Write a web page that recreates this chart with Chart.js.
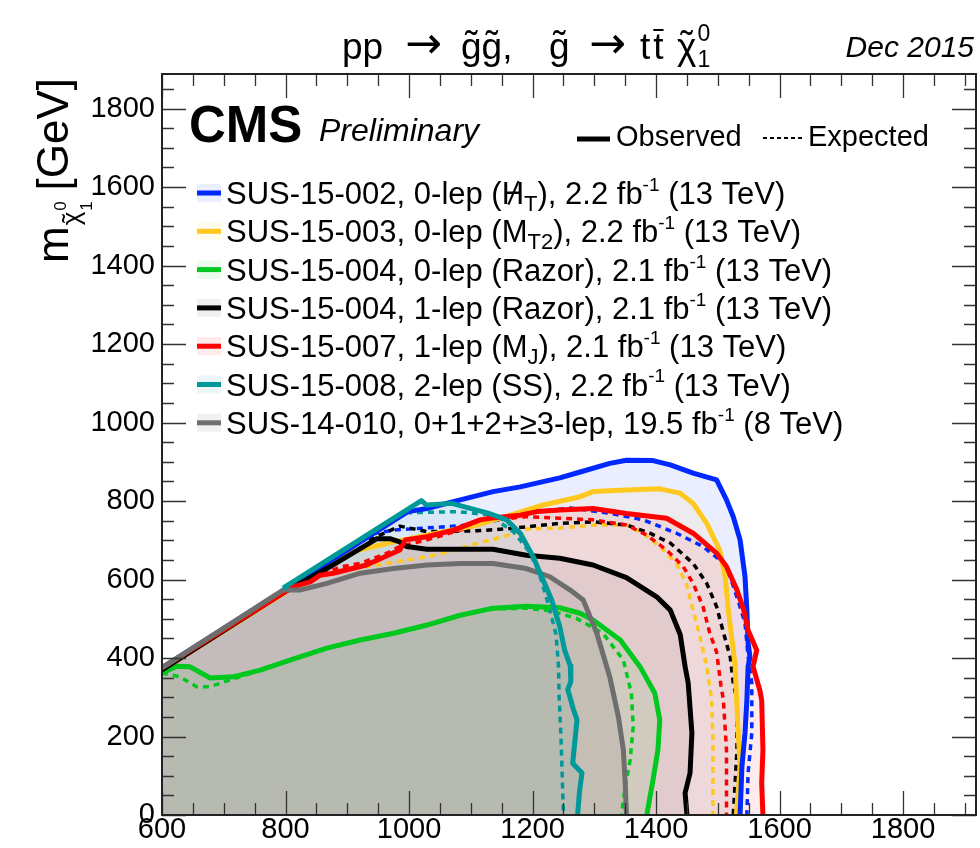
<!DOCTYPE html>
<html>
<head>
<meta charset="utf-8">
<script src="https://cdn.jsdelivr.net/npm/chart.js@4.4.0/dist/chart.umd.min.js"></script>
<style>
  html, body { margin: 0; padding: 0; background: #fff; }
  #wrap { width: 980px; height: 848px; overflow: hidden; }
</style>
</head>
<body>
<div id="wrap"><canvas id="limitChart" width="980" height="848"></canvas></div>
<script>
const FONT = "'Liberation Sans', Arial, sans-serif";

// axis ranges and labelled ticks (GeV)
const xRange = [600, 1918];
const yRange = [0, 1888];
const xTickValues = [600, 800, 1000, 1200, 1400, 1600, 1800];
const yTickValues = [0, 200, 400, 600, 800, 1000, 1200, 1400, 1600, 1800];

// corner of the kinematic diagonal at the left edge
const diagStart = [600, 375];

// contours: [m_gluino, m_LSP]
const sus15002Obs = [[600,375],[998,773],[1029,781],[1083,803],[1136,824],[1180,836],[1244,859],[1277,874],[1325,896],[1352,904],[1395,903],[1423,892],[1460,871],[1498,854],[1514,803],[1525,760],[1536,701],[1544,607],[1547,522],[1549,438],[1552,403],[1549,378],[1547,293],[1544,209],[1539,123],[1536,0]];
const sus15002Exp = [[942,717],[975,726],[1083,737],[1140,750],[1200,772],[1261,782],[1325,769],[1379,752],[1433,718],[1476,684],[1503,650],[1520,607],[1534,540],[1544,489],[1549,403],[1555,336],[1555,209],[1549,107],[1547,0]];

const sus15003Obs = [[600,370],[800,568],[910,672],[975,696],[1029,713],[1110,739],[1164,764],[1217,790],[1277,811],[1298,824],[1352,828],[1406,831],[1439,820],[1460,794],[1482,743],[1503,675],[1512,607],[1517,522],[1525,420],[1528,378],[1533,209],[1536,123],[1530,0]];
const sus15003Exp = [[840,615],[877,618],[948,637],[1029,658],[1066,671],[1110,692],[1153,709],[1191,729],[1244,731],[1298,739],[1352,739],[1379,718],[1406,684],[1433,641],[1449,590],[1460,522],[1471,454],[1482,378],[1490,293],[1492,191],[1492,0]];

const sus15004zObs = [[600,362],[624,379],[645,378],[678,349],[715,352],[759,369],[812,397],[867,425],[921,446],[975,463],[1029,484],[1083,509],[1136,527],[1190,532],[1244,528],[1277,514],[1298,497],[1342,446],[1374,378],[1398,310],[1406,242],[1403,166],[1395,89],[1385,0]];
const sus15004zExp = [[600,362],[629,352],[656,327],[678,327],[710,344],[759,369],[812,397],[867,425],[921,446],[975,463],[1029,484],[1083,509],[1136,525],[1190,527],[1230,520],[1271,501],[1314,463],[1347,395],[1360,310],[1363,225],[1358,140],[1350,72],[1344,0]];

const sus15004oObs = [[600,370],[800,570],[867,628],[948,704],[969,704],[985,696],[996,684],[1029,677],[1136,677],[1190,662],[1244,654],[1298,637],[1352,605],[1401,556],[1423,522],[1439,460],[1447,378],[1452,336],[1458,209],[1455,107],[1447,56],[1450,0]];
const sus15004oExp = [[935,700],[985,736],[1029,722],[1110,724],[1164,730],[1244,743],[1298,747],[1352,739],[1390,718],[1423,693],[1460,641],[1482,590],[1498,531],[1508,471],[1520,403],[1525,336],[1531,293],[1531,166],[1525,0]];

const sus15007Obs = [[600,375],[813,582],[840,594],[856,611],[877,616],[931,637],[985,675],[994,701],[1029,709],[1072,726],[1115,752],[1131,756],[1180,764],[1207,773],[1244,777],[1298,781],[1352,768],[1417,756],[1460,718],[1498,667],[1514,633],[1531,573],[1542,522],[1549,471],[1563,420],[1557,378],[1568,318],[1571,293],[1573,166],[1571,81],[1573,0]];
const sus15007Exp = [[860,612],[888,632],[921,641],[964,667],[985,684],[1029,701],[1083,726],[1136,752],[1190,760],[1244,756],[1298,752],[1352,739],[1385,713],[1417,675],[1444,633],[1460,590],[1476,531],[1487,463],[1498,415],[1505,330],[1509,293],[1514,166],[1514,0]];

const sus15008Obs = [[796,578],[1020,801],[1028,790],[1069,794],[1128,769],[1158,752],[1180,718],[1201,658],[1217,599],[1231,548],[1244,480],[1252,420],[1261,380],[1262,340],[1257,320],[1266,270],[1272,242],[1268,180],[1265,132],[1280,107],[1276,60],[1273,0]];
const sus15008Exp = [[995,770],[1077,773],[1130,765],[1170,720],[1195,670],[1210,620],[1225,540],[1238,460],[1242,380],[1243,300],[1246,200],[1248,100],[1250,0]];

const sus14010Obs = [[600,375],[796,573],[823,573],[867,590],[921,616],[975,628],[1029,637],[1083,641],[1136,641],[1190,628],[1228,607],[1261,573],[1282,548],[1304,463],[1325,352],[1339,250],[1347,166],[1350,81],[1352,0]];

// legend text pieces: plain strings, {sub}, {sup}, {slash}
const legendLabels = [
  ['SUS-15-002, 0-lep (', {slash: 'H'}, {sub: 'T'}, '), 2.2 fb', {sup: '-1'}, ' (13 TeV)'],
  ['SUS-15-003, 0-lep (M', {sub: 'T2'}, '), 2.2 fb', {sup: '-1'}, ' (13 TeV)'],
  ['SUS-15-004, 0-lep (Razor), 2.1 fb', {sup: '-1'}, ' (13 TeV)'],
  ['SUS-15-004, 1-lep (Razor), 2.1 fb', {sup: '-1'}, ' (13 TeV)'],
  ['SUS-15-007, 1-lep (M', {sub: 'J'}, '), 2.1 fb', {sup: '-1'}, ' (13 TeV)'],
  ['SUS-15-008, 2-lep (SS), 2.2 fb', {sup: '-1'}, ' (13 TeV)'],
  ['SUS-14-010, 0+1+2+\u22653-lep, 19.5 fb', {sup: '-1'}, ' (8 TeV)']
];

const lineColors = ['rgb(0,40,255)', 'rgb(255,200,30)', 'rgb(0,200,30)', 'rgb(0,0,0)', 'rgb(255,0,0)', 'rgb(0,153,153)', 'rgb(110,110,110)'];
const areaColors = ['rgba(0,40,255,0.08)', 'rgba(255,200,30,0.08)', 'rgba(0,200,30,0.08)', 'rgba(0,0,0,0.06)', 'rgba(255,0,0,0.08)', 'rgba(0,153,153,0.08)', 'rgba(0,0,0,0.06)'];
// lower value is drawn on top
const drawOrder = [5, 6, 4, 3, 2, 0, 1];

const observed = [sus15002Obs, sus15003Obs, sus15004zObs, sus15004oObs, sus15007Obs, sus15008Obs, sus14010Obs];
const expected = [sus15002Exp, sus15003Exp, sus15004zExp, sus15004oExp, sus15007Exp, sus15008Exp, null];

const toXY = arr => arr.map(([x, y]) => ({x, y}));

const datasets = [];
observed.forEach((obs, i) => {
  datasets.push({
    data: toXY(obs), showLine: true, fill: false,
    borderColor: lineColors[i], borderWidth: 5,
    areaColor: areaColors[i], order: drawOrder[i]
  });
  if (expected[i]) {
    datasets.push({
      data: toXY(expected[i]), showLine: true, fill: false,
      borderColor: lineColors[i], borderWidth: 3.5, borderDash: [6, 5],
      order: 10 + drawOrder[i]
    });
  }
});

// translucent excluded regions under each observed contour
const areaFill = {
  id: 'areaFill',
  beforeDatasetsDraw(chart) {
    const {ctx, chartArea, scales: {x, y}} = chart;
    ctx.save();
    ctx.beginPath();
    ctx.rect(chartArea.left, chartArea.top, chartArea.width, chartArea.height);
    ctx.clip();
    chart.data.datasets.forEach((ds, i) => {
      if (!ds.areaColor) return;
      const pts = chart.getDatasetMeta(i).data;
      ctx.beginPath();
      ctx.moveTo(x.getPixelForValue(xRange[0]), y.getPixelForValue(0));
      if (ds.data[0].x > xRange[0]) {
        ctx.lineTo(x.getPixelForValue(diagStart[0]), y.getPixelForValue(diagStart[1]));
      }
      pts.forEach(p => ctx.lineTo(p.x, p.y));
      ctx.lineTo(pts[pts.length - 1].x, y.getPixelForValue(0));
      ctx.closePath();
      ctx.fillStyle = ds.areaColor;
      ctx.fill();
    });
    ctx.restore();
  }
};

// box with inward ticks on all four sides
const frame = {
  id: 'frame',
  afterDatasetsDraw(chart) {
    const {ctx, chartArea: a, scales: {x, y}} = chart;
    ctx.save();
    ctx.strokeStyle = '#333';
    ctx.lineWidth = 1.3;
    ctx.beginPath();
    for (let v = xRange[0]; v <= xRange[1]; v += 50) {
      const px = Math.round(x.getPixelForValue(v)) + 0.5;
      const len = v % 200 === 0 ? 24 : 12;
      ctx.moveTo(px, a.bottom); ctx.lineTo(px, a.bottom - len);
      ctx.moveTo(px, a.top); ctx.lineTo(px, a.top + len);
    }
    for (let v = yRange[0]; v <= yRange[1]; v += 50) {
      const py = Math.round(y.getPixelForValue(v)) + 0.5;
      const len = v % 200 === 0 ? 24 : 12;
      ctx.moveTo(a.left, py); ctx.lineTo(a.left + len, py);
      ctx.moveTo(a.right, py); ctx.lineTo(a.right - len, py);
    }
    ctx.stroke();
    ctx.strokeStyle = '#222';
    ctx.lineWidth = 2;
    ctx.strokeRect(a.left, a.top, a.right - a.left, a.bottom - a.top);
    ctx.restore();
  }
};

function drawRich(ctx, x, y, parts, size) {
  let cx = x;
  parts.forEach(p => {
    if (typeof p === 'string') {
      ctx.font = `${size}px ${FONT}`;
      ctx.fillText(p, cx, y);
      cx += ctx.measureText(p).width;
    } else if (p.sub) {
      ctx.font = `${Math.round(size * 0.7)}px ${FONT}`;
      ctx.fillText(p.sub, cx, y + size * 0.22);
      cx += ctx.measureText(p.sub).width;
    } else if (p.sup) {
      ctx.font = `${Math.round(size * 0.6)}px ${FONT}`;
      ctx.fillText(p.sup, cx, y - size * 0.42);
      cx += ctx.measureText(p.sup).width;
    } else if (p.slash) {
      ctx.font = `${size}px ${FONT}`;
      const w = ctx.measureText(p.slash).width;
      ctx.fillText(p.slash, cx, y);
      ctx.save();
      ctx.lineWidth = size * 0.07;
      ctx.beginPath();
      ctx.moveTo(cx + w * 0.3, y + size * 0.02);
      ctx.lineTo(cx + w * 0.75, y - size * 0.74);
      ctx.stroke();
      ctx.restore();
      cx += w;
    }
  });
  return cx;
}

function tildeOver(ctx, cx, w, by, size) {
  ctx.save();
  ctx.textAlign = 'center';
  ctx.font = `${size}px ${FONT}`;
  ctx.fillText('\u02DC', cx + w / 2, by);
  ctx.restore();
}

function arrow(ctx, x, by) {
  ctx.save();
  ctx.font = "44px 'DejaVu Sans', sans-serif";
  ctx.fillText('\u2192', x, by);
  ctx.restore();
}

const annotations = {
  id: 'annotations',
  afterDraw(chart) {
    const {ctx} = chart;
    ctx.save();
    ctx.fillStyle = '#000';
    ctx.strokeStyle = '#000';
    ctx.textBaseline = 'alphabetic';

    // process title
    const ts = 37, tb = 59;
    ctx.font = `${ts}px ${FONT}`;
    const g = ctx.measureText('g').width;
    const t = ctx.measureText('t').width;
    ctx.fillText('pp', 342, tb);
    arrow(ctx, 405, tb - 1);
    ctx.font = `${ts}px ${FONT}`;
    ctx.fillText('g', 461, tb); tildeOver(ctx, 461, g, tb - 2, ts);
    ctx.fillText('g', 461 + g, tb); tildeOver(ctx, 461 + g, g, tb - 2, ts);
    ctx.fillText(',', 461 + 2 * g, tb);
    ctx.fillText('g', 549, tb); tildeOver(ctx, 549, g, tb - 2, ts);
    arrow(ctx, 589, tb - 1);
    ctx.font = `${ts}px ${FONT}`;
    ctx.fillText('t', 640, tb);
    ctx.fillText('t', 643 + t, tb);
    ctx.lineWidth = 2;
    ctx.beginPath();
    ctx.moveTo(643 + t, tb - 29); ctx.lineTo(643 + 2 * t, tb - 29);
    ctx.stroke();
    const chi = ctx.measureText('\u03C7').width;
    ctx.fillText('\u03C7', 677, tb); tildeOver(ctx, 677, chi, tb - 2, ts);
    ctx.font = `23px ${FONT}`;
    ctx.fillText('0', 677 + chi + 1, tb - 18);
    ctx.fillText('1', 677 + chi + 1, tb + 8);

    ctx.font = `italic 30px ${FONT}`;
    ctx.textAlign = 'right';
    ctx.fillText('Dec 2015', 974, 57);
    ctx.textAlign = 'left';

    // y axis title, rotated
    ctx.save();
    ctx.translate(68, 263);
    ctx.rotate(-Math.PI / 2);
    ctx.font = `44px ${FONT}`;
    ctx.fillText('m', 0, 0);
    const mw = ctx.measureText('m').width;
    ctx.font = `26px ${FONT}`;
    const cw = ctx.measureText('\u03C7').width;
    ctx.fillText('\u03C7', mw + 1, 12);
    tildeOver(ctx, mw + 1, cw, 12, 26);
    ctx.font = `17px ${FONT}`;
    ctx.fillText('0', mw + cw + 2, -2);
    ctx.fillText('1', mw + cw + 2, 24);
    ctx.font = `44px ${FONT}`;
    ctx.fillText(' [GeV]', mw + cw + 10, 0);
    ctx.restore();

    // experiment label
    ctx.font = `bold 51px ${FONT}`;
    ctx.fillText('CMS', 189, 142);
    ctx.font = `italic 32px ${FONT}`;
    ctx.fillText('Preliminary', 319, 141);

    // line style key
    ctx.lineWidth = 5;
    ctx.beginPath(); ctx.moveTo(577, 139); ctx.lineTo(610, 139); ctx.stroke();
    ctx.font = `29px ${FONT}`;
    ctx.fillText('Observed', 616, 146);
    ctx.lineWidth = 2;
    ctx.setLineDash([4, 3]);
    ctx.beginPath(); ctx.moveTo(763, 138); ctx.lineTo(805, 138); ctx.stroke();
    ctx.setLineDash([]);
    ctx.fillText('Expected', 808, 146);

    // analysis entries
    legendLabels.forEach((parts, i) => {
      const cy = 193 + i * 38.3;
      ctx.fillStyle = areaColors[i];
      ctx.fillRect(197, cy - 9, 24, 18);
      ctx.strokeStyle = lineColors[i];
      ctx.lineWidth = 5;
      ctx.beginPath(); ctx.moveTo(197, cy); ctx.lineTo(221, cy); ctx.stroke();
      ctx.fillStyle = '#000';
      ctx.strokeStyle = '#000';
      drawRich(ctx, 226, cy + 11, parts, 31);
    });
    ctx.restore();
  }
};

const tickFont = {family: FONT, size: 29, lineHeight: 1};

new Chart(document.getElementById('limitChart').getContext('2d'), {
  type: 'scatter',
  data: {datasets},
  options: {
    responsive: false,
    animation: false,
    layout: {padding: {top: 74, right: 4, left: 0, bottom: 0}},
    elements: {
      point: {radius: 0, hoverRadius: 0},
      line: {tension: 0, borderJoinStyle: 'round'}
    },
    plugins: {legend: {display: false}, tooltip: {enabled: false}},
    scales: {
      x: {
        type: 'linear', min: xRange[0], max: xRange[1],
        grid: {display: false, drawTicks: false},
        border: {display: false},
        afterBuildTicks: s => { s.ticks = xTickValues.map(v => ({value: v})); },
        afterFit: s => { s.height = 33; },
        ticks: {font: tickFont, color: '#000', padding: 0, maxRotation: 0, autoSkip: false, callback: v => String(v)}
      },
      y: {
        type: 'linear', min: yRange[0], max: yRange[1],
        grid: {display: false, drawTicks: false},
        border: {display: false},
        afterBuildTicks: s => { s.ticks = yTickValues.map(v => ({value: v})); },
        afterFit: s => { s.width = 162; },
        ticks: {font: tickFont, color: '#000', padding: 7, autoSkip: false, callback: v => String(v)}
      }
    }
  },
  plugins: [areaFill, frame, annotations]
});
</script>
</body>
</html>
